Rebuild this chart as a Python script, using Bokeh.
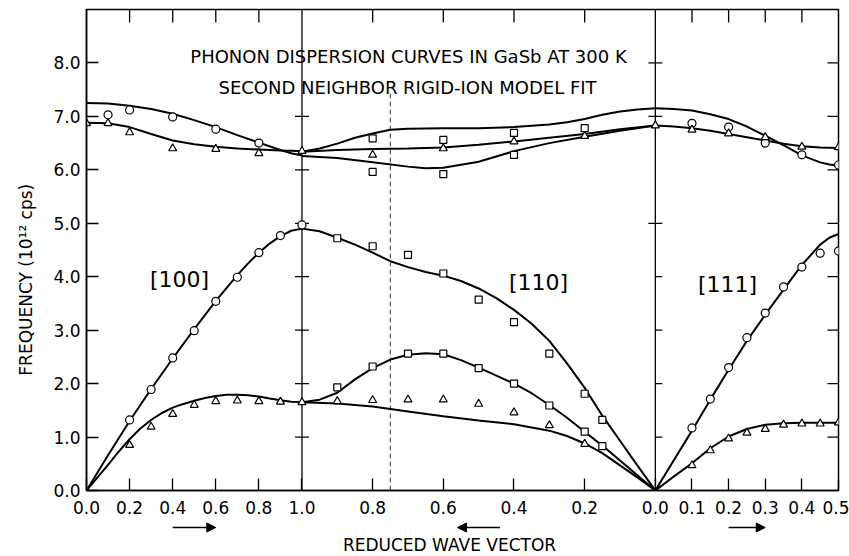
import math
from bokeh.plotting import figure
from bokeh.layouts import column
from bokeh.models import FixedTicker, Label, Arrow, NormalHead, PrintfTickFormatter, Range1d
from bokeh.embed import file_html
from bokeh.resources import INLINE

FONT = "DejaVu Sans"

# ---------------- tick values ----------------
y_ticks = [0, 1, 2, 3, 4, 5, 6, 7, 8]
ticks_100 = [0.0, 0.2, 0.4, 0.6, 0.8, 1.0]
ticks_110 = [0.8, 0.6, 0.4, 0.2, 0.0]
ticks_111 = [0.1, 0.2, 0.3, 0.4, 0.5]

# ---------------- measured points ----------------
# [100]
q100_LA = [0.2, 0.3, 0.4, 0.5, 0.6, 0.7, 0.8, 0.9, 1.0]
f100_LA = [1.32, 1.89, 2.48, 2.99, 3.54, 3.99, 4.45, 4.77, 4.97]
q100_TA = [0.2, 0.3, 0.4, 0.5, 0.6, 0.7, 0.8, 0.9, 1.0]
f100_TA = [0.85, 1.19, 1.43, 1.60, 1.67, 1.68, 1.67, 1.66, 1.65]
q100_LO = [0.1, 0.2, 0.4, 0.6, 0.8]
f100_LO = [7.03, 7.12, 6.99, 6.76, 6.50]
q100_TO = [0.0, 0.1, 0.2, 0.4, 0.6, 0.8, 1.0]
f100_TO = [6.87, 6.87, 6.70, 6.40, 6.39, 6.31, 6.35]

# [110]
q110_LA = [0.9, 0.8, 0.7, 0.6, 0.5, 0.4, 0.3, 0.2, 0.15]
f110_LA = [4.72, 4.57, 4.41, 4.06, 3.57, 3.15, 2.56, 1.81, 1.32]
q110_TA1 = [0.9, 0.8, 0.7, 0.6, 0.5, 0.4, 0.3, 0.2, 0.15]
f110_TA1 = [1.93, 2.32, 2.56, 2.56, 2.29, 2.00, 1.59, 1.10, 0.83]
q110_TA2 = [0.9, 0.8, 0.7, 0.6, 0.5, 0.4, 0.3, 0.2]
f110_TA2 = [1.67, 1.69, 1.70, 1.70, 1.62, 1.46, 1.22, 0.87]
q110_OPsq = [0.8, 0.8, 0.6, 0.6, 0.4, 0.4, 0.2]
f110_OPsq = [6.59, 5.96, 6.56, 5.92, 6.69, 6.28, 6.78]
q110_OPtr = [0.8, 0.6, 0.4, 0.2, 0.0]
f110_OPtr = [6.28, 6.40, 6.53, 6.63, 6.83]

# [111]
q111_LA = [0.1, 0.15, 0.2, 0.25, 0.3, 0.35, 0.4, 0.45, 0.5]
f111_LA = [1.17, 1.71, 2.30, 2.86, 3.32, 3.81, 4.18, 4.44, 4.48]
q111_TA = [0.1, 0.15, 0.2, 0.25, 0.3, 0.35, 0.4, 0.45, 0.5]
f111_TA = [0.47, 0.75, 0.97, 1.08, 1.15, 1.23, 1.25, 1.25, 1.27]
q111_LO = [0.1, 0.2, 0.3, 0.4, 0.5]
f111_LO = [6.87, 6.80, 6.50, 6.28, 6.09]
q111_TO = [0.1, 0.2, 0.3, 0.4, 0.5]
f111_TO = [6.75, 6.68, 6.61, 6.43, 6.42]

# ---------------- model curves ----------------
c100_LA_q = [0, 0.1, 0.2, 0.3, 0.4, 0.5, 0.6, 0.7, 0.75, 0.8, 0.85, 0.9, 0.95, 1.0]
c100_LA = [0, 0.66, 1.30, 1.90, 2.47, 3.02, 3.55, 4.03, 4.25, 4.45, 4.62, 4.76, 4.86, 4.90]
c100_TA_q = [0, 0.05, 0.1, 0.15, 0.2, 0.25, 0.3, 0.35, 0.4, 0.45, 0.5, 0.55, 0.6, 0.65, 0.7,
             0.75, 0.8, 0.85, 0.9, 0.95, 1.0]
c100_TA = [0, 0.24, 0.48, 0.73, 0.96, 1.16, 1.32, 1.45, 1.55, 1.62, 1.68, 1.73, 1.77, 1.79, 1.79,
           1.78, 1.76, 1.72, 1.69, 1.66, 1.65]
c100_O_q = [0, 0.1, 0.2, 0.3, 0.4, 0.5, 0.6, 0.7, 0.8, 0.9, 0.95, 1.0]
c100_LO = [7.25, 7.24, 7.20, 7.14, 7.05, 6.93, 6.80, 6.65, 6.51, 6.37, 6.31, 6.27]
c100_TO = [6.88, 6.87, 6.80, 6.67, 6.55, 6.48, 6.43, 6.40, 6.38, 6.36, 6.355, 6.35]

c110_A_q = [1.0, 0.95, 0.9, 0.85, 0.8, 0.75, 0.7, 0.65, 0.6, 0.55, 0.5, 0.45, 0.4, 0.35, 0.3,
            0.25, 0.2, 0.15, 0.1, 0.05, 0.0]
c110_LA = [4.90, 4.85, 4.73, 4.60, 4.45, 4.29, 4.18, 4.09, 4.02, 3.92, 3.78, 3.60, 3.38, 3.12,
           2.80, 2.38, 1.92, 1.40, 0.93, 0.46, 0]
c110_TA1 = [1.65, 1.70, 1.83, 2.08, 2.29, 2.45, 2.54, 2.57, 2.55, 2.44, 2.30, 2.15, 2.00, 1.82,
            1.60, 1.36, 1.10, 0.84, 0.56, 0.28, 0]
c110_TA2_q = [1.0, 0.9, 0.8, 0.7, 0.6, 0.5, 0.4, 0.3, 0.25, 0.2, 0.15, 0.1, 0.05, 0.0]
c110_TA2 = [1.65, 1.63, 1.57, 1.48, 1.39, 1.31, 1.24, 1.12, 1.02, 0.88, 0.70, 0.47, 0.24, 0]
c110_O1_q = [1.0, 0.95, 0.9, 0.85, 0.8, 0.75, 0.7, 0.6, 0.5, 0.4, 0.3, 0.25, 0.2, 0.15, 0.1, 0.05, 0.0]
c110_O1 = [6.34, 6.40, 6.49, 6.60, 6.68, 6.75, 6.77, 6.78, 6.78, 6.80, 6.85, 6.89, 6.95, 7.03,
           7.09, 7.13, 7.15]
c110_O2_q = [1.0, 0.9, 0.8, 0.7, 0.6, 0.5, 0.4, 0.3, 0.2, 0.1, 0.0]
c110_O2 = [6.34, 6.37, 6.39, 6.40, 6.42, 6.47, 6.53, 6.60, 6.67, 6.76, 6.83]
c110_O3_q = [1.0, 0.9, 0.8, 0.7, 0.65, 0.6, 0.5, 0.4, 0.3, 0.2, 0.1, 0.0]
c110_O3 = [6.26, 6.22, 6.14, 6.06, 6.03, 6.04, 6.15, 6.35, 6.50, 6.62, 6.73, 6.83]

c111_q = [0, 0.05, 0.1, 0.15, 0.2, 0.25, 0.3, 0.35, 0.4, 0.45, 0.475, 0.5]
c111_LA = [0, 0.56, 1.12, 1.70, 2.26, 2.80, 3.29, 3.76, 4.22, 4.60, 4.73, 4.80]
c111_TA = [0, 0.26, 0.51, 0.79, 1.01, 1.15, 1.23, 1.26, 1.27, 1.27, 1.27, 1.27]
c111_LO = [7.15, 7.14, 7.11, 7.04, 6.95, 6.81, 6.64, 6.46, 6.27, 6.14, 6.10, 6.08]
c111_TO = [6.83, 6.81, 6.78, 6.73, 6.67, 6.61, 6.55, 6.49, 6.44, 6.42, 6.415, 6.41]

# ---------------- abscissa mapping of the three branches ----------------
L2, L3 = 1.64, 1.70


def x100(q):
    return [round(float(v), 6) for v in q]


def x110(q):
    return [round(1.0 + L2 * (1.0 - float(v)), 6) for v in q]


def x111(q):
    return [round(1.0 + L2 + L3 * float(v), 6) for v in q]


XMAX = x111([0.5])[0]
YMAX = 9.0
FW, FH = 752, 481
PXX = FW / XMAX
PXY = FH / YMAX
LEFT, TOP = 86, 9

p = figure(frame_width=FW, frame_height=FH, x_range=(0, XMAX), y_range=(0, YMAX),
           output_backend="svg", toolbar_location=None,
           min_border_left=LEFT, min_border_right=11, min_border_top=TOP, min_border_bottom=30,
           background_fill_color="white", border_fill_color="white")
p.xgrid.visible = False
p.ygrid.visible = False
p.outline_line_color = "black"
p.outline_line_width = 1.5
p.outline_line_alpha = 1.0

# bottom axis
xt = x100(ticks_100) + x110(ticks_110) + x111(ticks_111)
xl = ["%.1f" % v for v in ticks_100] + ["%.1f" % v for v in ticks_110] + ["%.1f" % v for v in ticks_111]
xa = p.xaxis[0]
xa.ticker = FixedTicker(ticks=xt)
xa.major_label_overrides = {t: l for t, l in zip(xt, xl)}
for ax in (p.xaxis[0], p.yaxis[0]):
    ax.major_tick_in = 12
    ax.major_tick_out = 0
    ax.minor_tick_in = 0
    ax.minor_tick_out = 0
    ax.axis_line_width = 1.5
    ax.major_tick_line_width = 1.3
    ax.major_label_text_font = FONT
    ax.major_label_text_font_size = "17px"
    ax.major_label_text_color = "black"
xa.major_label_standoff = 10
ya = p.yaxis[0]
ya.ticker = FixedTicker(ticks=y_ticks)
ya.formatter = PrintfTickFormatter(format="%.1f")
ya.major_label_standoff = 6
ya.axis_label = "FREQUENCY (10\u00b9\u00b2 cps)" + "\u00a0" * 11
ya.axis_label_text_font = FONT
ya.axis_label_text_font_size = "17px"
ya.axis_label_text_font_style = "normal"
ya.axis_label_text_color = "black"
ya.axis_label_standoff = 14

# top ticks (inward)
top_x = x100(ticks_100[1:-1]) + x110(ticks_110[:-1]) + x111(ticks_111[:-1])
tl = 13 / PXY
p.segment(x0=top_x, y0=[YMAX] * len(top_x), x1=top_x, y1=[YMAX - tl] * len(top_x),
          line_color="black", line_width=1.3)
# right ticks (inward)
rt = y_ticks[1:]
rl = 11 / PXX
p.segment(x0=[XMAX] * len(rt), y0=rt, x1=[XMAX - rl] * len(rt), y1=rt,
          line_color="black", line_width=1.3)

# vertical symmetry-point lines
xb1 = x100([1.0])[0]
xb2 = x110([0.0])[0]
p.segment(x0=[xb1, xb2], y0=[0, 0], x1=[xb1, xb2], y1=[YMAX, YMAX], line_color="black", line_width=1.3)
hw = 7 / PXX
cross1 = [1, 2, 3, 4, 5, 6, 7]
p.segment(x0=[xb1 - hw] * len(cross1), y0=cross1, x1=[xb1 + hw] * len(cross1), y1=cross1,
          line_color="black", line_width=1.2)
cross2a = [5, 7, 8]
p.segment(x0=[xb2 - hw] * len(cross2a), y0=cross2a, x1=[xb2 + hw] * len(cross2a), y1=cross2a,
          line_color="black", line_width=1.2)
cross2b = [1, 2, 3, 4]
p.segment(x0=[xb2] * len(cross2b), y0=cross2b, x1=[xb2 + hw] * len(cross2b), y1=cross2b,
          line_color="black", line_width=1.2)
# dashed line at K point (q = 0.75 along [110])
xk = x110([0.75])[0]
p.segment(x0=[xk], y0=[0], x1=[xk], y1=[7.45], line_color="black", line_width=0.8, line_dash="5 3")

# curves
LW = 2.0
curves = [
    (x100(c100_LA_q), c100_LA), (x100(c100_TA_q), c100_TA),
    (x100(c100_O_q), c100_LO), (x100(c100_O_q), c100_TO),
    (x110(c110_A_q), c110_LA), (x110(c110_A_q), c110_TA1), (x110(c110_TA2_q), c110_TA2),
    (x110(c110_O1_q), c110_O1), (x110(c110_O2_q), c110_O2), (x110(c110_O3_q), c110_O3),
    (x111(c111_q), c111_LA), (x111(c111_q), c111_TA), (x111(c111_q), c111_LO), (x111(c111_q), c111_TO),
]
for xs, ys in curves:
    p.line(xs, ys, line_color="black", line_width=LW)


def pts(xs, ys, marker, size):
    p.scatter(xs, ys, marker=marker, size=size, fill_color="white", line_color="black", line_width=1.2)


pts(x100(q100_LA), f100_LA, "circle", 8)
pts(x100(q100_LO), f100_LO, "circle", 8)
pts(x111(q111_LA), f111_LA, "circle", 8)
pts(x111(q111_LO), f111_LO, "circle", 8)
pts(x110(q110_LA), f110_LA, "square", 7)
pts(x110(q110_TA1), f110_TA1, "square", 7)
pts(x110(q110_OPsq), f110_OPsq, "square", 7)
pts(x100(q100_TA), f100_TA, "triangle", 8)
pts(x100(q100_TO), f100_TO, "triangle", 8)
pts(x110(q110_TA2), f110_TA2, "triangle", 8)
pts(x110(q110_OPtr), f110_OPtr, "triangle", 8)
pts(x111(q111_TA), f111_TA, "triangle", 8)
pts(x111(q111_TO), f111_TO, "triangle", 8)


def px_to_x(px):
    return (px - LEFT) / PXX


def py_to_y(py):
    return (TOP + FH - py) / PXY


def lab(fig, x, y, text, size, angle=0.0):
    fig.add_layout(Label(x=x, y=y, text=text, text_font=FONT, text_font_size=size,
                         text_align="center", text_baseline="middle", angle=angle,
                         text_color="black"))


lab(p, px_to_x(408), py_to_y(56), "PHONON DISPERSION CURVES IN GaSb AT 300 K", "18px")
lab(p, px_to_x(407), py_to_y(87), "SECOND NEIGHBOR RIGID-ION MODEL FIT", "18px")
lab(p, px_to_x(179), py_to_y(279), "[100]", "22px")
lab(p, px_to_x(538), py_to_y(282), "[110]", "22px")
lab(p, px_to_x(727), py_to_y(284), "[111]", "22px")

# ---------------- strip below the axis: direction arrows and axis title ----------------
SH = 35
sub = figure(frame_width=FW, frame_height=SH, x_range=p.x_range, y_range=Range1d(SH, 0),
             x_axis_location=None, y_axis_location=None, output_backend="svg",
             toolbar_location=None, min_border_left=LEFT, min_border_right=11,
             min_border_top=0, min_border_bottom=0,
             background_fill_color="white", border_fill_color="white")
sub.outline_line_color = None
sub.grid.visible = False

arrow_y = 7
for x0, x1 in [(x100([0.4])[0], x100([0.6])[0]),
               (x110([0.44])[0], x110([0.56])[0]),
               (x111([0.2])[0], x111([0.3])[0])]:
    sub.add_layout(Arrow(end=NormalHead(size=9, fill_color="black", line_color="black"),
                         x_start=x0, y_start=arrow_y, x_end=x1, y_end=arrow_y,
                         line_color="black", line_width=1.5))
lab(sub, px_to_x(449), 24, "REDUCED WAVE VECTOR", "17px")

layout = column(p, sub)
open("out.html", "w").write(file_html(layout, INLINE))
